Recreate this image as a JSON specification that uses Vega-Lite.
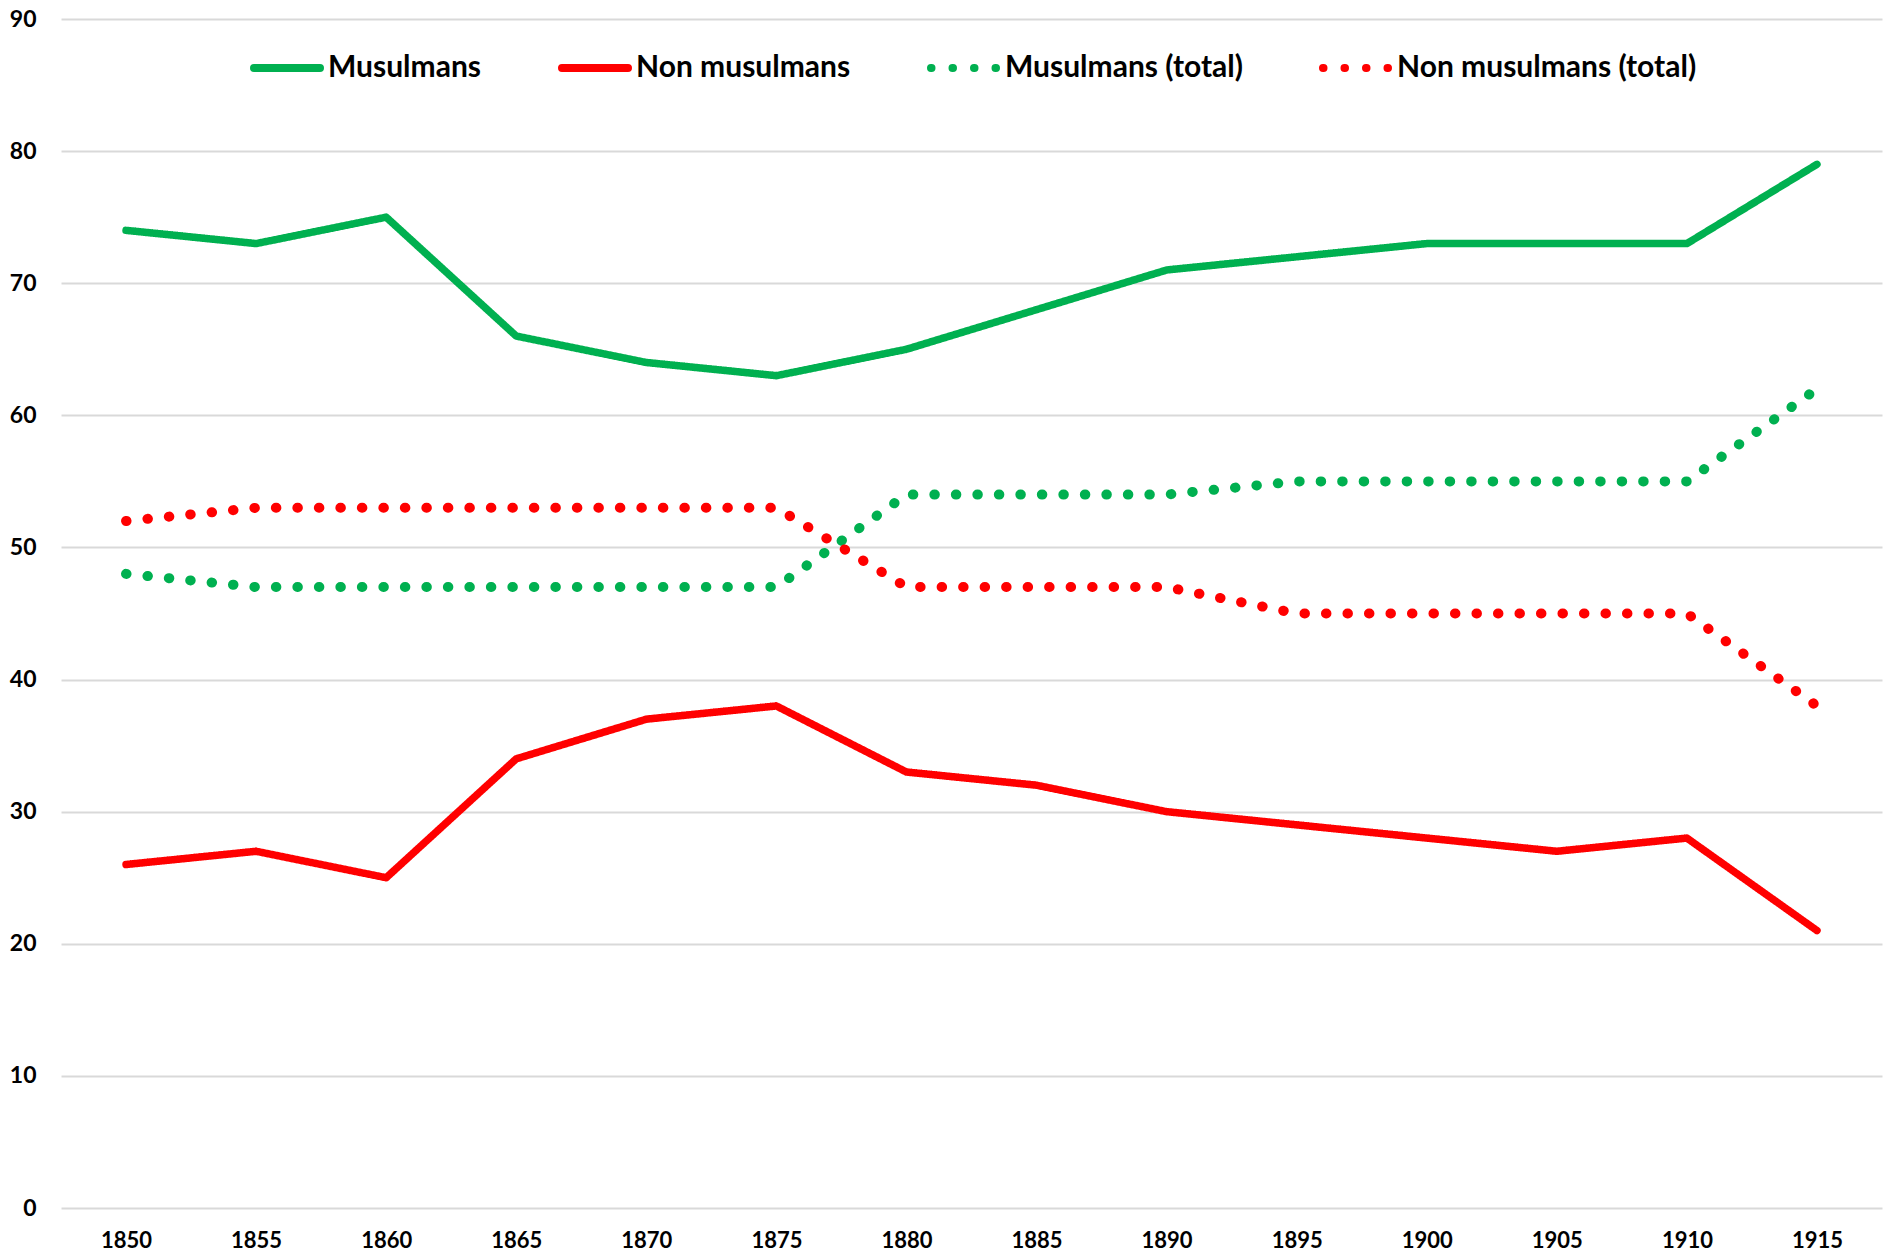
{
  "$schema": "https://vega.github.io/schema/vega-lite/v6.json",
  "width": 1821,
  "height": 1189,
  "autosize": {"type": "none"},
  "padding": {"left": 61, "top": 19, "right": 2, "bottom": 45},
  "background": "white",
  "config": {
    "view": {"stroke": null},
    "font": "Lato",
    "axis": {"labelFont": "Lato", "labelFontWeight": "bold", "labelColor": "#000000", "domain": false, "ticks": false, "title": null}
  },
  "data": {
    "values": [
      {"year": "1850", "series": "Musulmans", "value": 74},
      {"year": "1855", "series": "Musulmans", "value": 73},
      {"year": "1860", "series": "Musulmans", "value": 75},
      {"year": "1865", "series": "Musulmans", "value": 66},
      {"year": "1870", "series": "Musulmans", "value": 64},
      {"year": "1875", "series": "Musulmans", "value": 63},
      {"year": "1880", "series": "Musulmans", "value": 65},
      {"year": "1885", "series": "Musulmans", "value": 68},
      {"year": "1890", "series": "Musulmans", "value": 71},
      {"year": "1895", "series": "Musulmans", "value": 72},
      {"year": "1900", "series": "Musulmans", "value": 73},
      {"year": "1905", "series": "Musulmans", "value": 73},
      {"year": "1910", "series": "Musulmans", "value": 73},
      {"year": "1915", "series": "Musulmans", "value": 79},
      {"year": "1850", "series": "Non musulmans", "value": 26},
      {"year": "1855", "series": "Non musulmans", "value": 27},
      {"year": "1860", "series": "Non musulmans", "value": 25},
      {"year": "1865", "series": "Non musulmans", "value": 34},
      {"year": "1870", "series": "Non musulmans", "value": 37},
      {"year": "1875", "series": "Non musulmans", "value": 38},
      {"year": "1880", "series": "Non musulmans", "value": 33},
      {"year": "1885", "series": "Non musulmans", "value": 32},
      {"year": "1890", "series": "Non musulmans", "value": 30},
      {"year": "1895", "series": "Non musulmans", "value": 29},
      {"year": "1900", "series": "Non musulmans", "value": 28},
      {"year": "1905", "series": "Non musulmans", "value": 27},
      {"year": "1910", "series": "Non musulmans", "value": 28},
      {"year": "1915", "series": "Non musulmans", "value": 21},
      {"year": "1850", "series": "Musulmans (total)", "value": 48},
      {"year": "1855", "series": "Musulmans (total)", "value": 47},
      {"year": "1860", "series": "Musulmans (total)", "value": 47},
      {"year": "1865", "series": "Musulmans (total)", "value": 47},
      {"year": "1870", "series": "Musulmans (total)", "value": 47},
      {"year": "1875", "series": "Musulmans (total)", "value": 47},
      {"year": "1880", "series": "Musulmans (total)", "value": 54},
      {"year": "1885", "series": "Musulmans (total)", "value": 54},
      {"year": "1890", "series": "Musulmans (total)", "value": 54},
      {"year": "1895", "series": "Musulmans (total)", "value": 55},
      {"year": "1900", "series": "Musulmans (total)", "value": 55},
      {"year": "1905", "series": "Musulmans (total)", "value": 55},
      {"year": "1910", "series": "Musulmans (total)", "value": 55},
      {"year": "1915", "series": "Musulmans (total)", "value": 62},
      {"year": "1850", "series": "Non musulmans (total)", "value": 52},
      {"year": "1855", "series": "Non musulmans (total)", "value": 53},
      {"year": "1860", "series": "Non musulmans (total)", "value": 53},
      {"year": "1865", "series": "Non musulmans (total)", "value": 53},
      {"year": "1870", "series": "Non musulmans (total)", "value": 53},
      {"year": "1875", "series": "Non musulmans (total)", "value": 53},
      {"year": "1880", "series": "Non musulmans (total)", "value": 47},
      {"year": "1885", "series": "Non musulmans (total)", "value": 47},
      {"year": "1890", "series": "Non musulmans (total)", "value": 47},
      {"year": "1895", "series": "Non musulmans (total)", "value": 45},
      {"year": "1900", "series": "Non musulmans (total)", "value": 45},
      {"year": "1905", "series": "Non musulmans (total)", "value": 45},
      {"year": "1910", "series": "Non musulmans (total)", "value": 45},
      {"year": "1915", "series": "Non musulmans (total)", "value": 38}
    ]
  },
  "encoding": {
    "x": {
      "field": "year", "type": "ordinal",
      "scale": {"type": "point", "padding": 0.5},
      "axis": {"labelAngle": 0, "labelFontSize": 22, "labelPadding": 22, "grid": false}
    },
    "y": {
      "field": "value", "type": "quantitative",
      "scale": {"domain": [0, 90], "nice": false},
      "axis": {"values": [0, 10, 20, 30, 40, 50, 60, 70, 80, 90], "labelFontSize": 23, "labelPadding": 25, "grid": true, "gridColor": "#D9D9D9", "gridWidth": 2}
    },
    "color": {
      "field": "series", "type": "nominal",
      "scale": {
        "domain": ["Musulmans", "Non musulmans", "Musulmans (total)", "Non musulmans (total)"],
        "range": ["#00B050", "#FF0000", "#00B050", "#FF0000"]
      },
      "legend": {
        "title": null,
        "orient": "none",
        "direction": "horizontal",
        "legendX": 189,
        "legendY": 12,
        "padding": 0,
        "symbolType": "stroke",
        "symbolSize": 4356,
        "symbolStrokeWidth": 8,
        "labelFont": "Lato",
        "labelFontWeight": "bold",
        "labelFontSize": 30,
        "labelColor": "#000000",
        "labelOffset": 4,
        "columnPadding": 64,
        "labelLimit": 500,
        "encode": {"symbols": {"update": {"strokeCap": {"value": "round"}}}}
      }
    },
    "strokeDash": {
      "field": "series", "type": "nominal",
      "scale": {
        "domain": ["Musulmans", "Non musulmans", "Musulmans (total)", "Non musulmans (total)"],
        "range": [[1, 0], [1, 0], [0.5, 21], [0.5, 21]]
      },
      "legend": {
        "title": null,
        "orient": "none",
        "direction": "horizontal",
        "legendX": 189,
        "legendY": 12,
        "padding": 0,
        "symbolType": "stroke",
        "symbolSize": 4356,
        "symbolStrokeWidth": 8,
        "labelFont": "Lato",
        "labelFontWeight": "bold",
        "labelFontSize": 30,
        "labelColor": "#000000",
        "labelOffset": 4,
        "columnPadding": 64,
        "labelLimit": 500,
        "encode": {"symbols": {"update": {"strokeCap": {"value": "round"}}}}
      }
    }
  },
  "layer": [
    {
      "transform": [{"filter": "datum.series === 'Musulmans' || datum.series === 'Non musulmans'"}],
      "mark": {"type": "line", "strokeWidth": 7.5, "strokeCap": "round", "strokeJoin": "round"}
    },
    {
      "transform": [{"filter": "datum.series === 'Musulmans (total)' || datum.series === 'Non musulmans (total)'"}],
      "mark": {"type": "line", "strokeWidth": 10, "strokeCap": "round", "strokeJoin": "round"}
    }
  ]
}
